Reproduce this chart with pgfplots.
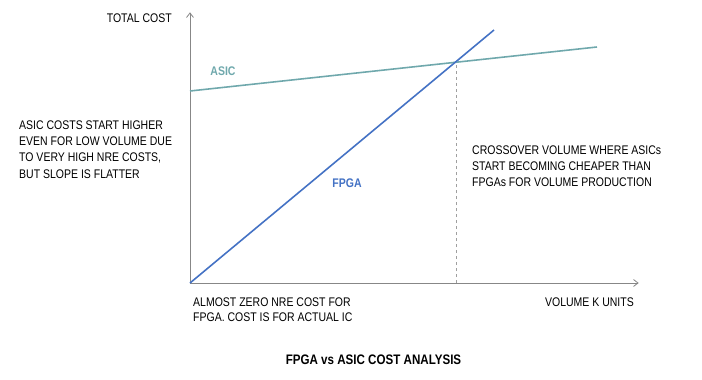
\documentclass[border=0pt]{standalone}
\usepackage{pgfplots}
\pgfplotsset{compat=1.18}
\usepackage{fontspec}
\setmainfont{Liberation Sans}[FakeStretch=0.84]
\definecolor{asic}{RGB}{111,168,172}
\definecolor{fpga}{RGB}{68,114,196}
\definecolor{txt}{RGB}{30,30,30}
\definecolor{axl}{RGB}{135,135,135}
\begin{document}
\begin{tikzpicture}
\begin{axis}[
  scale only axis, width=448bp, height=270bp,
  xmin=0, xmax=448, ymin=0, ymax=270,
  axis lines=none,
  xtick=\empty, ytick=\empty,
  clip=false,
  every node/.style={text=txt},
]
\draw[axl, line width=0.8pt] (axis cs:0,0) -- (axis cs:0,270);
\draw[axl, line width=0.8pt] (axis cs:0,0) -- (axis cs:448,0);
\draw[axl, line width=0.8pt, line join=miter] (axis cs:-3.5,265.5) -- (axis cs:0,270) -- (axis cs:3.5,265.5);
\draw[axl, line width=0.8pt, line join=miter] (axis cs:443.5,3.5) -- (axis cs:448,0) -- (axis cs:443.5,-3.5);
\addplot[asic, line width=1.6pt] coordinates {(0,192) (407,236)};
\addplot[fpga, line width=1.6pt] coordinates {(0,0) (304,253)};
\addplot[axl!80, dashed, line width=0.6pt] coordinates {(266,0) (266,221)};
\node[anchor=east, inner sep=0pt, font=\fontsize{12.5bp}{15bp}\selectfont] at (axis cs:-18,265) {TOTAL COST};
\node[text=asic, font=\fontsize{12.5bp}{15bp}\selectfont\bfseries] at (axis cs:33,212) {ASIC};
\node[text=fpga, font=\fontsize{12.5bp}{15bp}\selectfont\bfseries] at (axis cs:157,100) {FPGA};
\node[anchor=west, align=left, inner sep=0pt, font=\fontsize{12.5bp}{16.3bp}\selectfont] at (axis cs:-171,133.5) {ASIC COSTS START HIGHER\\EVEN FOR LOW VOLUME DUE\\TO VERY HIGH NRE COSTS,\\BUT SLOPE IS FLATTER};
\node[anchor=west, align=left, inner sep=0pt, font=\fontsize{12.5bp}{15.8bp}\selectfont] at (axis cs:282,117) {CROSSOVER VOLUME WHERE ASICs\\START BECOMING CHEAPER THAN\\FPGAs FOR VOLUME PRODUCTION};
\node[anchor=west, align=left, inner sep=0pt, font=\fontsize{12.5bp}{15.5bp}\selectfont] at (axis cs:3,-26.5) {ALMOST ZERO NRE COST FOR\\FPGA. COST IS FOR ACTUAL IC};
\node[anchor=east, inner sep=0pt, font=\fontsize{12.5bp}{15bp}\selectfont] at (axis cs:444,-19) {VOLUME K UNITS};
\node[font=\fontsize{13.8bp}{16bp}\selectfont\bfseries] at (axis cs:183.5,-77) {FPGA vs ASIC COST ANALYSIS};
\end{axis}
\useasboundingbox (-190bp,-97bp) rectangle (512bp,283bp);
\end{tikzpicture}
\end{document}
